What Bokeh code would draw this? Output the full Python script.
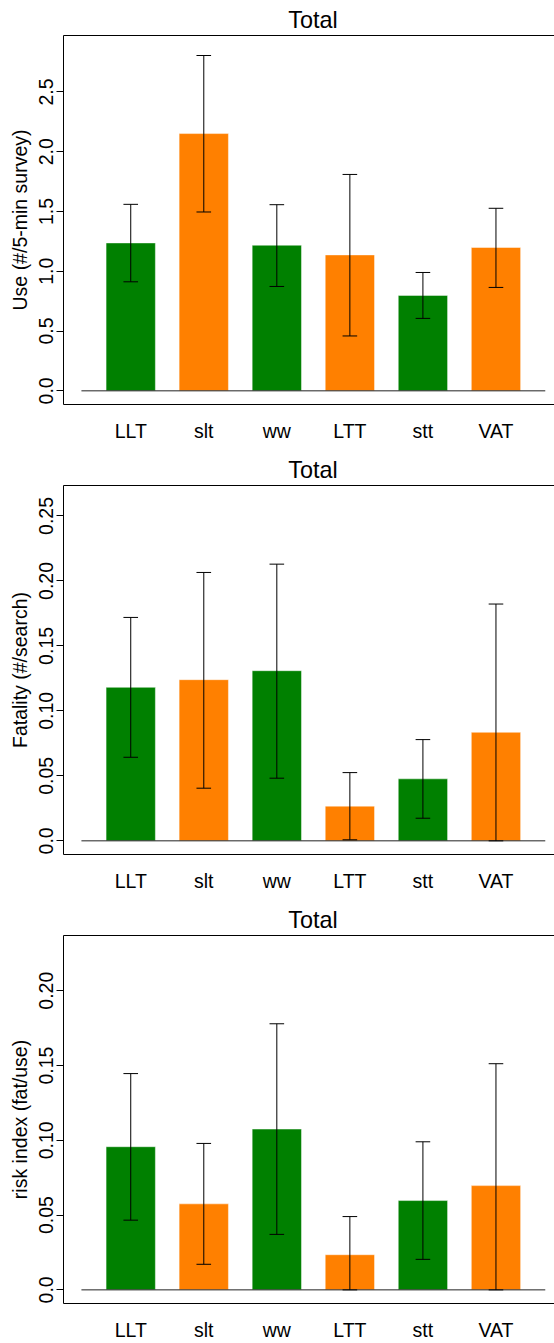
from bokeh.plotting import figure
from bokeh.models import FixedTicker, LinearAxis, Range1d
from bokeh.layouts import column
from bokeh.embed import file_html
from bokeh.resources import INLINE

# ---------------- data ----------------
categories = ["LLT", "slt", "ww", "LTT", "stt", "VAT"]
bar_colors = ["#008000", "#FF8000", "#008000", "#FF8000", "#008000", "#FF8000"]

use_mean = [1.237, 2.152, 1.218, 1.137, 0.798, 1.199]
use_lower = [0.912, 1.496, 0.873, 0.459, 0.606, 0.865]
use_upper = [1.560, 2.805, 1.557, 1.810, 0.990, 1.527]

fat_mean = [0.1181, 0.1240, 0.1309, 0.0267, 0.0477, 0.0835]
fat_lower = [0.0643, 0.0405, 0.0482, 0.0008, 0.0174, 0.0]
fat_upper = [0.1719, 0.2065, 0.2129, 0.0525, 0.0779, 0.1822]

risk_mean = [0.0957, 0.0575, 0.1075, 0.0235, 0.0597, 0.0697]
risk_lower = [0.0466, 0.0171, 0.0371, 0.0, 0.0204, 0.0]
risk_upper = [0.1446, 0.0979, 0.1779, 0.0490, 0.0990, 0.1512]

use_ticks = [0.0, 0.5, 1.0, 1.5, 2.0, 2.5]
use_tick_labels = ["0.0", "0.5", "1.0", "1.5", "2.0", "2.5"]
fat_ticks = [0.0, 0.05, 0.10, 0.15, 0.20, 0.25]
fat_tick_labels = ["0.0", "0.05", "0.10", "0.15", "0.20", "0.25"]
risk_ticks = [0.0, 0.05, 0.10, 0.15, 0.20]
risk_tick_labels = ["0.0", "0.05", "0.10", "0.15", "0.20"]

use_ylim = 2.858
fat_ylim = 0.2629
risk_ylim = 0.2278

FONT = "Liberation Sans"
LABEL_SIZE = "19.5px"
TITLE_SIZE = "23.4px"
BAR_WIDTH = 0.675
CAP_HALF = 0.1


def make_panel(title, ylabel, mean, lower, upper, ticks, tick_labels, ylim, height, border_bottom):
    idx = list(range(len(categories)))
    p = figure(width=554, height=height, output_backend="svg", toolbar_location=None,
               x_range=Range1d(-0.9205, 5.8014),
               y_range=Range1d(-0.04 * ylim, 1.04 * ylim),
               min_border_left=63, min_border_right=0, min_border_top=35,
               min_border_bottom=border_bottom)
    p.outline_line_color = None
    p.background_fill_color = "white"
    p.border_fill_color = "white"
    p.xgrid.visible = False
    p.ygrid.visible = False

    # bars
    p.vbar(x=idx, top=mean, bottom=0, width=BAR_WIDTH, fill_color=bar_colors,
           line_color="white", line_alpha=0.45, line_width=1)
    # baseline
    p.line(x=[idx[0] - BAR_WIDTH, idx[-1] + BAR_WIDTH], y=[0, 0], line_color="#222222", line_width=1)
    # error bars
    p.segment(x0=idx, y0=lower, x1=idx, y1=upper, line_color="black", line_width=1)
    p.segment(x0=[i - CAP_HALF for i in idx], y0=upper, x1=[i + CAP_HALF for i in idx], y1=upper,
              line_color="black", line_width=1)
    p.segment(x0=[i - CAP_HALF for i in idx], y0=lower, x1=[i + CAP_HALF for i in idx], y1=lower,
              line_color="black", line_width=1)

    # x axis
    xa = p.xaxis[0]
    xa.ticker = FixedTicker(ticks=idx)
    xa.major_label_overrides = {i: c for i, c in zip(idx, categories)}
    xa.major_tick_line_color = None
    xa.minor_tick_line_color = None
    xa.major_tick_out = 0
    xa.major_tick_in = 0
    xa.major_label_standoff = 15
    xa.major_label_text_font = FONT
    xa.major_label_text_font_size = LABEL_SIZE
    xa.major_label_text_color = "black"
    xa.axis_line_color = "black"

    # y axis
    ya = p.yaxis[0]
    ya.ticker = FixedTicker(ticks=ticks)
    ya.major_label_overrides = {t: s for t, s in zip(ticks, tick_labels)}
    ya.minor_tick_line_color = None
    ya.major_tick_out = 7
    ya.major_tick_in = 0
    ya.major_label_orientation = "vertical"
    ya.major_label_standoff = 3
    ya.major_label_text_font = FONT
    ya.major_label_text_font_size = LABEL_SIZE
    ya.major_label_text_color = "black"
    ya.axis_label = ylabel
    ya.axis_label_text_font = FONT
    ya.axis_label_text_font_size = LABEL_SIZE
    ya.axis_label_text_font_style = "normal"
    ya.axis_label_text_color = "black"
    ya.axis_label_standoff = 6
    ya.axis_line_color = "black"

    # top border line
    top = LinearAxis(ticker=FixedTicker(ticks=[]), major_tick_line_color=None,
                     minor_tick_line_color=None, major_label_text_font_size="0px",
                     major_tick_out=0, major_tick_in=0, major_label_standoff=0,
                     axis_line_color="black")
    p.add_layout(top, "above")

    p.title.text = title
    p.title.align = "left"
    p.title.offset = 224.7
    p.title.text_font = FONT
    p.title.text_font_size = TITLE_SIZE
    p.title.text_font_style = "normal"
    p.title.text_color = "black"
    p.title.standoff = 6
    return p


p1 = make_panel("Total", "Use (#/5-min survey)", use_mean, use_lower, use_upper,
                use_ticks, use_tick_labels, use_ylim, 450, 46)
p2 = make_panel("Total", "Fatality (#/search)", fat_mean, fat_lower, fat_upper,
                fat_ticks, fat_tick_labels, fat_ylim, 450, 46)
p3 = make_panel("Total", "risk index (fat/use)", risk_mean, risk_lower, risk_upper,
                risk_ticks, risk_tick_labels, risk_ylim, 443, 38)

layout = column(p1, p2, p3, spacing=0)
open("out.html", "w").write(file_html(layout, INLINE))
